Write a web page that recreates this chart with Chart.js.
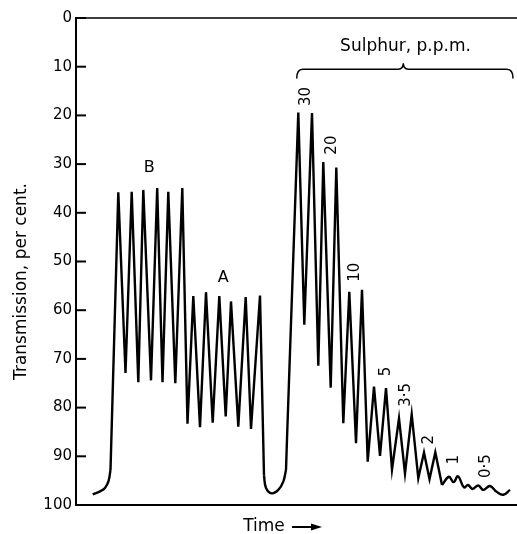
<!DOCTYPE html>
<html>
<head>
<meta charset="utf-8">
<script src="https://cdn.jsdelivr.net/npm/chart.js@4.4.1/dist/chart.umd.min.js"></script>
<style>
  html, body { margin: 0; padding: 0; background: #fff; }
  #wrap { width: 517px; height: 534px; position: relative; }
</style>
</head>
<body>
<div id="wrap"><canvas id="trace"></canvas></div>
<script>
// ─── RECORDER TRACE ───────────────────────────────────────
// time in chart-paper units, transmission in per cent
const riseTime  = [16.7, 24, 29, 32.5, 34.5];
const riseTrans = [97.8, 97.2, 96.5, 95.1, 92.8];

// standard B (six peaks) then standard A (six peaks)
const standardTime  = [42.3, 49.5, 55.7, 62.3, 67.3, 75, 81.2, 86.5, 92.3, 99.3, 106.3,
                       111.5, 117.3, 124, 130, 136.7, 143.3, 149.7, 155, 162.3, 169.7, 175, 184, 188];
const standardTrans = [35.8, 72.9, 35.7, 74.8, 35.3, 74.4, 34.9, 74.8, 35.7, 75.0, 34.9,
                       83.3, 57.1, 84.0, 56.3, 83.1, 57.1, 81.8, 58.2, 83.9, 57.3, 84.4, 57.0, 94.0];

// blank between standards and samples
const blankTime  = [190, 195.7, 202.3, 207.3, 210];
const blankTrans = [96.5, 97.6, 96.9, 95.2, 92.8];

// sulphur series, two injections per concentration
const sulphurTime  = [211.3, 222.3, 228.3, 236, 242.3, 247.3, 254.7, 260.3, 267.3, 273.3, 280, 286,
                      291.7, 298, 304, 310, 316, 323, 329, 335.7, 342.3, 348, 353.5, 359.3, 366];
const sulphurTrans = [84.6, 19.4, 63.0, 19.5, 71.4, 29.6, 75.9, 30.7, 83.2, 56.2, 87.3, 55.8,
                      91.1, 75.7, 89.9, 76.0, 92.7, 82.2, 93.5, 81.4, 94.5, 89.2, 94.7, 89.2, 95.9];

const tailTime  = [373, 377.5, 382, 388, 392, 396.5, 402.3, 407.3, 414, 420.7, 427.3, 434];
const tailTrans = [94.2, 95.3, 94.1, 96.4, 95.9, 96.7, 96.0, 96.9, 96.1, 97.3, 97.9, 96.9];

const sulphurPpm = ['30', '20', '10', '5', '3·5', '2', '1', '0·5'];
const transmissionTicks = [0, 10, 20, 30, 40, 50, 60, 70, 80, 90, 100];

const INK = '#000';
const FONT = 'DejaVu Sans';

// ─── BUILD DATASETS ───────────────────────────────────────
// each piece starts where the previous one ended so the pen line is continuous
const pieces = [
  { time: riseTime, trans: riseTrans, tension: 0.4 },
  { time: standardTime, trans: standardTrans, tension: 0 },
  { time: blankTime, trans: blankTrans, tension: 0.4 },
  { time: sulphurTime, trans: sulphurTrans, tension: 0 },
  { time: tailTime, trans: tailTrans, tension: 0.4 },
];
let lastPt = null;
const datasets = pieces.map(p => {
  const pts = p.time.map((t, i) => ({ x: t, y: p.trans[i] }));
  if (lastPt) pts.unshift(lastPt);
  lastPt = pts[pts.length - 1];
  return {
    data: pts,
    borderColor: INK,
    borderWidth: 2.4,
    pointRadius: 0,
    tension: p.tension,
    fill: false,
  };
});

// label anchors in (time, transmission)
const ppmAnchors = [[229.8, 16.1], [255.7, 26.1], [279.5, 52.2], [309.8, 72.6],
                    [329.8, 77.4], [352.7, 86.6], [377.8, 90.7], [409.8, 92.0]];

function text(ctx, str, x, y, size, rotate) {
  ctx.save();
  ctx.translate(x, y);
  if (rotate) ctx.rotate(-Math.PI / 2);
  ctx.font = size + 'px "' + FONT + '"';
  ctx.fillStyle = INK;
  ctx.textAlign = 'center';
  ctx.textBaseline = 'middle';
  ctx.fillText(str, 0, 0);
  ctx.restore();
}

// ─── FRAME, TICKS AND ANNOTATIONS ─────────────────────────
const recorderChart = {
  id: 'recorderChart',
  afterDraw(chart) {
    const { ctx, chartArea: a, scales: { x, y } } = chart;
    ctx.save();
    ctx.strokeStyle = INK;
    ctx.lineCap = 'butt';

    // top and bottom rules
    ctx.lineWidth = 1.5;
    ctx.beginPath();
    ctx.moveTo(a.left, a.top); ctx.lineTo(a.right, a.top);
    ctx.stroke();
    ctx.lineWidth = 2;
    ctx.beginPath();
    ctx.moveTo(a.left, a.bottom); ctx.lineTo(a.right, a.bottom);
    ctx.stroke();

    // inward tick marks
    ctx.lineWidth = 2;
    transmissionTicks.forEach(v => {
      const py = y.getPixelForValue(v);
      ctx.beginPath();
      ctx.moveTo(a.left, py); ctx.lineTo(a.left + 10, py);
      ctx.stroke();
    });

    // brace over the sulphur run
    const bx0 = x.getPixelForValue(220.7), bx1 = x.getPixelForValue(437), bxc = x.getPixelForValue(327.3);
    const by = y.getPixelForValue(10.5), byEnd = y.getPixelForValue(12.4), byTip = y.getPixelForValue(9.3);
    ctx.lineWidth = 1.5;
    ctx.beginPath();
    ctx.moveTo(bx0, byEnd);
    ctx.quadraticCurveTo(bx0, by, bx0 + 6, by);
    ctx.lineTo(bxc - 5, by);
    ctx.quadraticCurveTo(bxc, by, bxc, byTip);
    ctx.quadraticCurveTo(bxc, by, bxc + 5, by);
    ctx.lineTo(bx1 - 6, by);
    ctx.quadraticCurveTo(bx1, by, bx1, byEnd);
    ctx.stroke();

    text(ctx, 'Sulphur, p.p.m.', x.getPixelForValue(329.5), y.getPixelForValue(5.9), 17, false);
    text(ctx, 'B', x.getPixelForValue(73.3), y.getPixelForValue(30.7), 16, false);
    text(ctx, 'A', x.getPixelForValue(147.3), y.getPixelForValue(53.4), 16, false);
    sulphurPpm.forEach((s, i) => {
      const [t, v] = ppmAnchors[i];
      text(ctx, s, x.getPixelForValue(t), y.getPixelForValue(v), 15, true);
    });

    // axis titles
    text(ctx, 'Transmission, per cent.', 22, (a.top + a.bottom) / 2 + 20, 17, true);
    const ty = a.bottom + 22;
    text(ctx, 'Time', a.left + 188, ty, 17, false);
    const ax0 = a.left + 216, ax1 = a.left + 246;
    ctx.lineWidth = 2;
    ctx.beginPath();
    ctx.moveTo(ax0, ty); ctx.lineTo(ax1 - 8, ty);
    ctx.stroke();
    ctx.fillStyle = INK;
    ctx.beginPath();
    ctx.moveTo(ax1, ty); ctx.lineTo(ax1 - 11, ty - 3.5); ctx.lineTo(ax1 - 11, ty + 3.5);
    ctx.closePath();
    ctx.fill();

    ctx.restore();
  }
};

new Chart(document.getElementById('trace').getContext('2d'), {
  type: 'line',
  data: { datasets },
  options: {
    responsive: true,
    maintainAspectRatio: false,
    animation: false,
    layout: { padding: { top: 18, bottom: 29, left: 0, right: 0 } },
    plugins: {
      legend: { display: false },
      tooltip: { enabled: false },
    },
    scales: {
      x: { type: 'linear', min: 0, max: 441, display: false },
      y: {
        reverse: true,
        min: 0,
        max: 100,
        afterBuildTicks: s => { s.ticks = transmissionTicks.map(v => ({ value: v })); },
        afterFit: s => { s.width = 76; },
        grid: { display: false, drawTicks: false },
        border: { display: true, color: INK, width: 2 },
        ticks: { color: INK, padding: 4, font: { family: FONT, size: 15 } },
      }
    }
  },
  plugins: [recorderChart]
});
</script>
</body>
</html>
